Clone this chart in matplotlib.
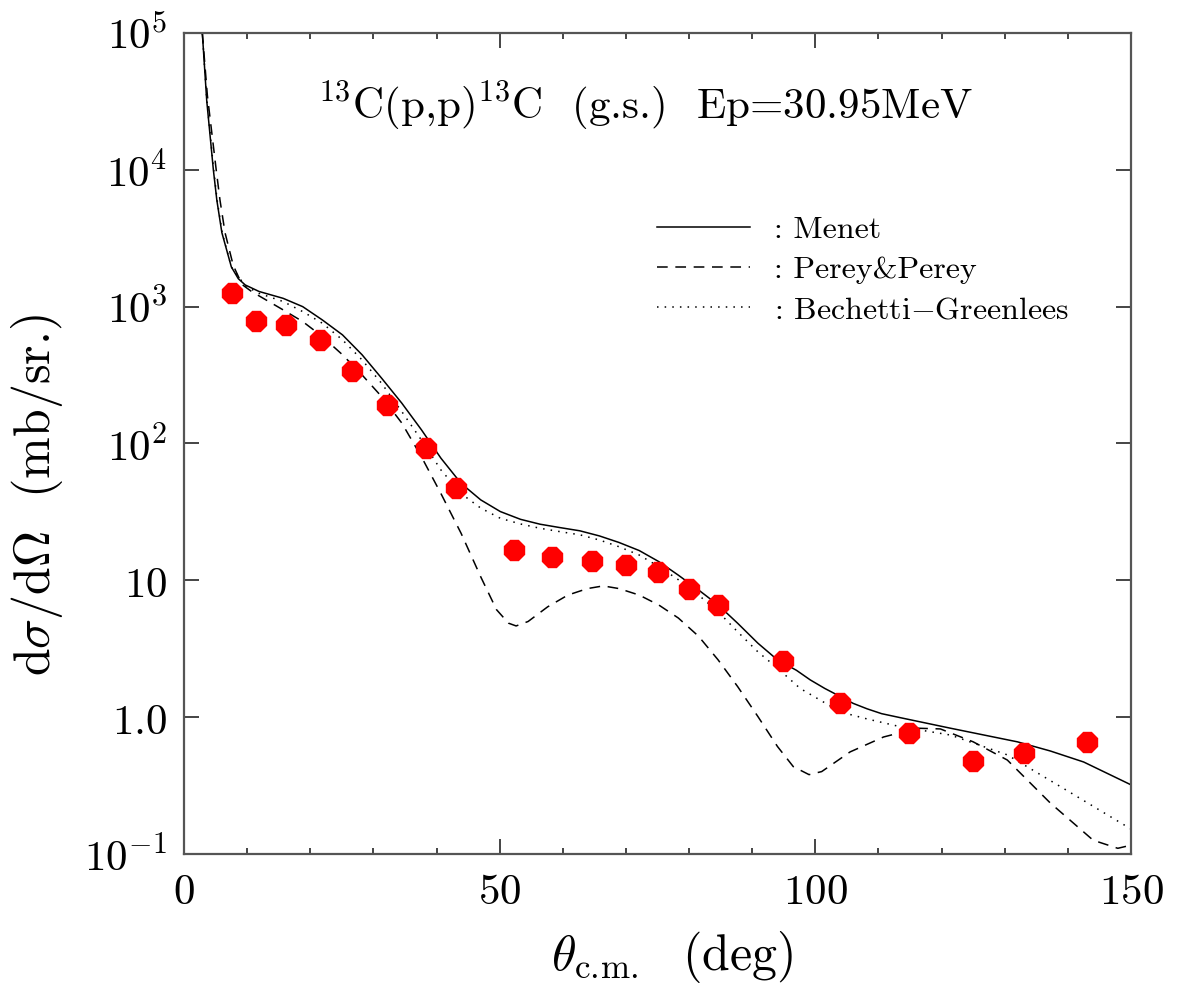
import numpy as np
import matplotlib
matplotlib.use('Agg')
import matplotlib.pyplot as plt
from matplotlib.ticker import FixedLocator, MultipleLocator, NullLocator

plt.rcParams['mathtext.fontset'] = 'cm'
plt.rcParams['font.family'] = 'serif'

# measured cross sections (deg, mb/sr)
theta_exp = [7.6, 11.4, 16.2, 21.6, 26.6, 32.2, 38.3, 43.1, 52.3, 58.3, 64.7,
             70.0, 75.1, 80.0, 84.6, 94.8, 103.9, 114.9, 125.0, 133.0, 143.1]
sigma_exp = [1260, 787, 736, 572, 340, 191, 93, 47.4, 16.7, 14.8, 13.9,
             13.0, 11.5, 8.65, 6.6, 2.58, 1.27, 0.77, 0.48, 0.547, 0.66]

# optical model curves
theta_menet = [2.9, 3.6, 4.65, 5.2, 6.0, 7.5, 8.6, 9.7, 11.9, 15.7, 18.8, 21.9,
               25.1, 28.2, 31.3, 34.5, 37.6, 40.7, 43.9, 47.0, 50.1, 53.3, 56.4,
               59.5, 62.7, 65.8, 68.9, 72.1, 75.2, 78.3, 81.5, 84.6, 87.7, 90.9,
               94.0, 97.0, 99.2, 101.5, 104.0, 106.0, 108.2, 110.5, 113.5, 121.4,
               132.0, 137.2, 142.5, 150.0]
sigma_menet = [1e5, 3.2e4, 1e4, 6000, 3470, 1950, 1600, 1440, 1290, 1150, 1000, 800,
               622, 445, 300, 197, 126, 78, 51, 38.7, 31.8, 27.9, 25.7,
               24.3, 23.0, 21.1, 18.9, 16.5, 13.7, 10.9, 8.5, 6.6, 4.85, 3.47,
               2.62, 2.2, 1.87, 1.62, 1.41, 1.26, 1.15, 1.06, 0.99, 0.83,
               0.66, 0.566, 0.47, 0.32]

theta_perey = [2.9, 3.7, 5.1, 5.7, 6.5, 7.8, 9.2, 10.7, 15.7, 18.8, 21.9, 25.1,
               28.2, 31.3, 34.5, 37.6, 40.7, 43.9, 47.0, 49.5, 51.4, 52.6, 54.5,
               57.6, 60.8, 63.9, 66.4, 68.9, 72.1, 75.2, 78.3, 81.5, 84.6, 87.7,
               90.9, 94.0, 96.5, 99.0, 101.0, 105.5, 110.8, 116.2, 119.8, 125.0,
               130.4, 137.2, 144.0, 147.9, 150.0]
sigma_perey = [1e5, 3.5e4, 1e4, 6000, 3470, 2000, 1450, 1290, 947, 778, 605, 445,
               317, 220, 141, 80, 43, 22, 10.6, 6.1, 4.86, 4.64, 5.0,
               6.4, 7.8, 8.7, 9.1, 8.7, 7.8, 6.6, 5.3, 3.9, 2.62, 1.67,
               1.01, 0.61, 0.435, 0.38, 0.40, 0.557, 0.716, 0.83, 0.82, 0.66,
               0.486, 0.236, 0.126, 0.11, 0.116]

theta_bg = [2.9, 3.6, 4.7, 5.25, 6.05, 7.5, 9.7, 11.9, 15.7, 18.8, 21.9, 25.1,
            28.2, 31.3, 34.5, 37.6, 40.7, 43.9, 47.0, 50.1, 53.3, 56.4, 59.5,
            62.7, 65.8, 68.9, 72.1, 75.2, 78.3, 81.5, 84.6, 87.7, 90.9, 94.0,
            97.6, 104.0, 108.2, 113.5, 121.4, 130.4, 139.9, 149.4, 150.0]
sigma_bg = [1e5, 3.3e4, 1e4, 6000, 3470, 1950, 1420, 1250, 1090, 920, 757, 572,
            408, 275, 171, 106, 64, 43, 33.7, 28.4, 25.8, 24, 22.7,
            21.5, 19.7, 17.6, 15.3, 12.6, 10.1, 7.8, 5.9, 4.2, 3.0, 2.28,
            1.62, 1.09, 0.97, 0.85, 0.74, 0.53, 0.29, 0.158, 0.152]

ytick_vals = [1e-1, 1, 10, 1e2, 1e3, 1e4, 1e5]
ytick_labels = [r'$10^{-1}$', r'$1.0$', r'$10$', r'$10^2$', r'$10^3$', r'$10^4$', r'$10^5$']
xtick_vals = [0, 50, 100, 150]

fig = plt.figure(figsize=(11.81, 9.90), dpi=100)
ax = fig.add_axes([0.1558, 0.1374, 0.8019, 0.8293])

ax.plot(theta_menet, sigma_menet, color='black', lw=1.1, linestyle='-',
        label=': Menet')
ax.plot(theta_perey, sigma_perey, color='black', lw=1.1, linestyle=(0, (7, 5)),
        label=': Perey&Perey')
ax.plot(theta_bg, sigma_bg, color='black', lw=1.1, linestyle=(0, (1, 4)),
        label=r': Bechetti$-$Greenlees')
ax.plot(theta_exp, sigma_exp, linestyle='none', marker='8', markersize=16,
        color='red', markeredgecolor='red', zorder=3)

ax.set_yscale('log')
ax.set_xlim(0, 150)
ax.set_ylim(0.1, 1e5)

ax.yaxis.set_major_locator(FixedLocator(ytick_vals))
ax.yaxis.set_minor_locator(NullLocator())
ax.set_yticklabels(ytick_labels)
ax.xaxis.set_major_locator(FixedLocator(xtick_vals))
ax.xaxis.set_minor_locator(MultipleLocator(10))
ax.set_xticklabels([r'$%d$' % v for v in xtick_vals])

ax.tick_params(which='both', direction='in', top=True, right=True,
               color='#444444', width=1.4, labelsize=31, pad=12)
ax.tick_params(which='major', length=11)
ax.tick_params(which='minor', length=4)
for s in ax.spines.values():
    s.set_color('#555555')
    s.set_linewidth(1.6)

ax.set_xlabel(r'$\theta_{\mathrm{c.\!m.}}$  (deg)', fontsize=36, labelpad=12,
              family='cmr10', x=0.515)
ax.set_ylabel(r'd$\sigma$/d$\Omega$  (mb/sr.)', fontsize=36, labelpad=14,
              family='cmr10', y=0.437)

ax.text(0.487, 0.91, '$^{13}$C(p,p)$^{13}$C  (g.s.)  Ep=30.95MeV',
        transform=ax.transAxes, ha='center', va='center', fontsize=31,
        family='cmr10')

ax.legend(loc='upper left', bbox_to_anchor=(0.4995, 0.777), frameon=False,
          prop={'family': 'cmr10', 'size': 23}, borderpad=0, borderaxespad=0,
          handlelength=2.9, handletextpad=0.75, labelspacing=0.36)

fig.savefig('out.png', dpi=100)
